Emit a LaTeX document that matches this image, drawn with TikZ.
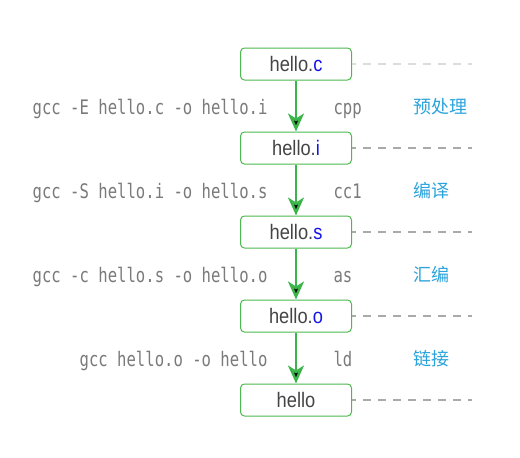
\documentclass[tikz,border=0pt]{standalone}
\usepackage{fontspec}
\usetikzlibrary{arrows.meta}
\newfontfamily\cmdfont[FakeStretch=0.78]{DejaVu Sans Mono}
\newfontfamily\filefont[FakeStretch=0.87]{Liberation Sans}
\newfontfamily\cjk{Noto Sans CJK SC}
\definecolor{boxgreen}{HTML}{4CB84F}
\definecolor{arrowgreen}{HTML}{3BB54A}
\definecolor{cmdgray}{HTML}{7A7A7A}
\definecolor{stageblue}{HTML}{2BA3DC}
\definecolor{extblue}{HTML}{1414E6}
\definecolor{filegray}{HTML}{444444}
\definecolor{dashgray}{HTML}{AAAAAA}
\definecolor{dashlight}{HTML}{DCDCDC}
\tikzset{
  file/.style={draw=boxgreen, line width=1pt, rounded corners=4pt,
    minimum width=111pt, minimum height=32pt, inner sep=0pt,
    text=filegray, font=\filefont\fontsize{21}{24}\selectfont},
  cmd/.style={anchor=base east, text=cmdgray, font=\cmdfont\fontsize{20}{24}\selectfont},
  tool/.style={anchor=base west, text=cmdgray, font=\cmdfont\fontsize{20}{24}\selectfont},
  stage/.style={anchor=base west, text=stageblue, font=\cjk\fontsize{18}{22}\selectfont},
  flow/.style={draw=arrowgreen, line width=2.5pt, -{Stealth[length=18pt,width=16pt,inset=5pt]}},
  guide/.style={draw=dashgray, line width=1.2pt, dash pattern=on 8pt off 7pt, dash phase=4pt}
}
\begin{document}
\begin{tikzpicture}[x=1pt,y=-1pt]
    \useasboundingbox (0,0) rectangle (520,458);
    % files
    \node[file] (c) at (296,64) {hello.\textcolor{extblue}{c}};
    \node[file] (i) at (296,148) {hello.\textcolor{extblue}{i}};
    \node[file] (s) at (296,232) {hello.\textcolor{extblue}{s}};
    \node[file] (o) at (296,316) {hello.\textcolor{extblue}{o}};
    \node[file] (exe) at (296,400) {hello};
    % commands, tools and stages
    \node[cmd] (cmdE) at (271,114) {gcc -E hello.c -o hello.i};
    \node[cmd] (cmdS) at (271,198) {gcc -S hello.i -o hello.s};
    \node[cmd] (cmdc) at (271,282) {gcc -c hello.s -o hello.o};
    \node[cmd] (cmdld) at (271,366) {gcc hello.o -o hello};
    \node[tool] (cpp) at (330,114) {cpp};
    \node[tool] (cc1) at (330,198) {cc1};
    \node[tool] (as) at (330,282) {as};
    \node[tool] (ld) at (330,366) {ld};
    \node[stage] (pre) at (410,113) {预处理};
    \node[stage] (comp) at (410,197) {编译};
    \node[stage] (asm) at (410,281) {汇编};
    \node[stage] (link) at (410,365) {链接};
    % flow
    \path[flow] (c) edge (i);
    \path[flow] (i) edge (s);
    \path[flow] (s) edge (o);
    \path[flow] (o) edge (exe);
    % guides
    \coordinate (gc) at (472,64);
    \coordinate (gi) at (472,148);
    \coordinate (gs) at (472,232);
    \coordinate (go) at (472,316);
    \coordinate (gexe) at (472,400);
    \draw[guide, draw=dashlight] (c.east) -- (gc);
    \draw[guide] (i.east) -- (gi);
    \draw[guide] (s.east) -- (gs);
    \draw[guide] (o.east) -- (go);
    \draw[guide] (exe.east) -- (gexe);
\end{tikzpicture}
\end{document}
